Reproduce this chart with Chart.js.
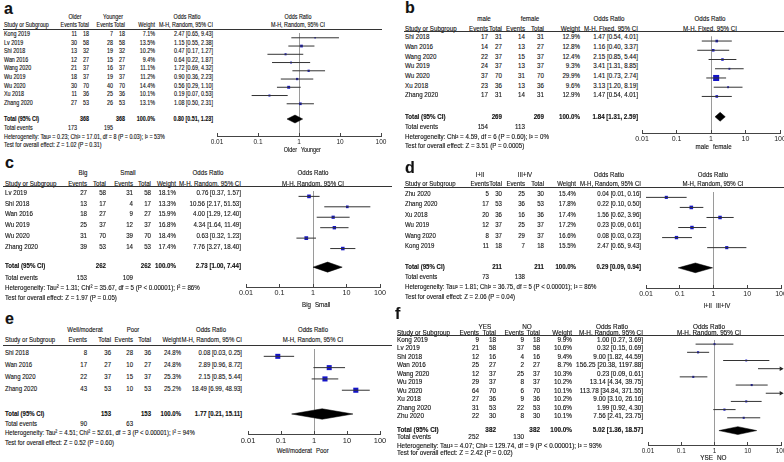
<!DOCTYPE html>
<html>
<head>
<meta charset="utf-8">
<script src="https://cdn.jsdelivr.net/npm/chart.js@4.4.1/dist/chart.umd.min.js"></script>
<style>
  body { margin: 0; width: 784px; height: 462px; position: relative; overflow: hidden; background: #fff; }
  .t { position: absolute; white-space: nowrap; line-height: 1; color: #111; -webkit-text-stroke: 0.12px #111; }
  .rule { position: absolute; height: 1px; background: #333; }
  .plot { position: absolute; }
</style>
</head>
<body>
<script>
// shared axis
const tickVals = [0.01, 0.1, 1, 10, 100];
const tickLabels = ['0.01', '0.1', '1', '10', '100'];

// a  Older vs Younger
const aStudy = ['Kong 2019', 'Lv 2019', 'Shi 2018', 'Wan 2016', 'Wang 2020', 'Wu 2019', 'Wu 2020', 'Xu 2018', 'Zhang 2020'];
const aEv1 = [11, 30, 13, 12, 21, 18, 30, 11, 27];
const aTot1 = [18, 58, 32, 27, 37, 37, 70, 36, 53];
const aEv2 = [7, 28, 19, 15, 16, 19, 40, 25, 26];
const aTot2 = [18, 58, 32, 27, 37, 37, 70, 36, 53];
const aWeight = [7.1, 13.5, 10.2, 9.4, 11.1, 11.2, 14.4, 10.1, 13.1];
const aOR = [2.47, 1.15, 0.47, 0.64, 1.72, 0.90, 0.56, 0.19, 1.08];
const aLow = [0.65, 0.55, 0.17, 0.22, 0.69, 0.36, 0.29, 0.07, 0.50];
const aHigh = [9.43, 2.38, 1.27, 1.87, 4.32, 2.23, 1.10, 0.53, 2.31];
const aTotal = [0.80, 0.51, 1.23];
const aTotN = [368, 368];
const aTotEv = [173, 195];

// b  male vs female
const bStudy = ['Shi 2018', 'Wan 2016', 'Wang 2020', 'Wu 2019', 'Wu 2020', 'Xu 2018', 'Zhang 2020'];
const bEv1 = [17, 14, 22, 24, 37, 23, 17];
const bTot1 = [31, 27, 37, 37, 70, 36, 31];
const bEv2 = [14, 13, 15, 13, 31, 13, 14];
const bTot2 = [31, 27, 37, 37, 70, 36, 31];
const bWeight = [12.9, 12.8, 12.4, 9.3, 29.9, 9.6, 12.9];
const bOR = [1.47, 1.16, 2.15, 3.41, 1.41, 3.13, 1.47];
const bLow = [0.54, 0.40, 0.85, 1.31, 0.73, 1.20, 0.54];
const bHigh = [4.01, 3.37, 5.44, 8.85, 2.74, 8.19, 4.01];
const bTotal = [1.84, 1.31, 2.59];
const bTotN = [269, 269];
const bTotEv = [154, 113];

// c  Big vs Small
const cStudy = ['Lv 2019', 'Shi 2018', 'Wan 2016', 'Wu 2019', 'Wu 2020', 'Zhang 2020'];
const cEv1 = [27, 13, 18, 25, 31, 39];
const cTot1 = [58, 17, 27, 37, 70, 53];
const cEv2 = [31, 4, 9, 12, 39, 14];
const cTot2 = [58, 17, 27, 37, 70, 53];
const cWeight = [18.1, 13.3, 15.9, 16.8, 18.4, 17.4];
const cOR = [0.76, 10.56, 4.00, 4.34, 0.63, 7.76];
const cLow = [0.37, 2.17, 1.29, 1.64, 0.32, 3.27];
const cHigh = [1.57, 51.53, 12.40, 11.49, 1.23, 18.40];
const cTotal = [2.73, 1.00, 7.44];
const cTotN = [262, 262];
const cTotEv = [153, 109];

// d  I+II vs III+IV
const dStudy = ['Zhu 2020', 'Zhang 2020', 'Xu 2018', 'Wu 2019', 'Wang 2020', 'Kong 2019'];
const dEv1 = [5, 17, 20, 12, 8, 11];
const dTot1 = [30, 53, 36, 37, 37, 18];
const dEv2 = [25, 36, 16, 25, 29, 7];
const dTot2 = [30, 53, 36, 37, 37, 18];
const dWeight = [15.4, 17.8, 17.4, 17.2, 16.6, 15.5];
const dOR = [0.04, 0.22, 1.56, 0.23, 0.08, 2.47];
const dLow = [0.01, 0.10, 0.62, 0.09, 0.03, 0.65];
const dHigh = [0.16, 0.50, 3.96, 0.61, 0.23, 9.43];
const dTotal = [0.29, 0.09, 0.94];
const dTotN = [211, 211];
const dTotEv = [73, 138];

// e  Well/moderat vs Poor
const eStudy = ['Shi 2018', 'Wan 2016', 'Wang 2020', 'Zhang 2020'];
const eEv1 = [8, 17, 22, 43];
const eTot1 = [36, 27, 37, 53];
const eEv2 = [28, 10, 15, 10];
const eTot2 = [36, 27, 37, 53];
const eWeight = [24.8, 24.8, 25.3, 25.2];
const eOR = [0.08, 2.89, 2.15, 18.49];
const eLow = [0.03, 0.96, 0.85, 6.99];
const eHigh = [0.25, 8.72, 5.44, 48.93];
const eTotal = [1.77, 0.21, 15.11];
const eTotN = [153, 153];
const eTotEv = [90, 63];

// f  YES vs NO
const fStudy = ['Kong 2019', 'Lv 2019', 'Shi 2018', 'Wan 2016', 'Wang 2020', 'Wu 2019', 'Wu 2020', 'Xu 2018', 'Zhang 2020', 'Zhu 2020'];
const fEv1 = [9, 21, 12, 25, 12, 29, 64, 27, 31, 22];
const fTot1 = [18, 58, 16, 27, 37, 37, 70, 36, 53, 30];
const fEv2 = [9, 37, 4, 2, 25, 8, 6, 9, 22, 8];
const fTot2 = [18, 58, 16, 27, 37, 37, 70, 36, 53, 30];
const fWeight = [9.9, 10.6, 9.4, 8.7, 10.3, 10.2, 10.1, 10.2, 10.6, 10.1];
const fOR = [1.00, 0.32, 9.00, 156.25, 0.23, 13.14, 113.78, 9.00, 1.99, 7.56];
const fLow = [0.27, 0.15, 1.82, 20.38, 0.09, 4.34, 34.84, 3.10, 0.92, 2.41];
const fHigh = [3.69, 0.69, 44.59, 1197.88, 0.61, 39.75, 371.55, 26.16, 4.30, 23.75];
const fTotal = [5.02, 1.36, 18.57];
const fTotN = [382, 382];
const fTotEv = [252, 130];

const FONT = '"Liberation Sans", Arial, sans-serif';
const mc = document.createElement('canvas').getContext('2d');

const panels = [
  { letter: 'a', lx: 4, ly: 9, groups: ['Older', 'Younger'], method: 'M-H, Random, 95% CI',
    study: aStudy, ev1: aEv1, tot1: aTot1, ev2: aEv2, tot2: aTot2, w: aWeight, or: aOR, lo: aLow, hi: aHigh,
    total: aTotal, totN: aTotN, totEv: aTotEv,
    het: 'Heterogeneity: Tau² = 0.23; Chi² = 17.01, df = 8 (P = 0.03); I² = 53%',
    test: 'Test for overall effect: Z = 1.02 (P = 0.31)', hetW: 161,
    fs: 6.5, cols: [4, 77.3, 89.3, 112.7, 125, 155, 213.3], h1x: [75, 113, 186.5], phx: 298,
    h1y: 17, h2y: 25.7, lineY: 29.3, lineX: [3, 382], rowY0: 34.3, dy: 8.6,
    totY: 119, evY: 128, hetY: 137, testY: 145.7, x0: 217, x1: 381, axisY: 136.7, footY: 150 },
  { letter: 'b', lx: 405, ly: 8, groups: ['male', 'female'], method: 'M-H, Fixed, 95% CI',
    study: bStudy, ev1: bEv1, tot1: bTot1, ev2: bEv2, tot2: bTot2, w: bWeight, or: bOR, lo: bLow, hi: bHigh,
    total: bTotal, totN: bTotN, totEv: bTotEv,
    het: 'Heterogeneity: Chi² = 4.59, df = 6 (P = 0.60); I² = 0%',
    test: 'Test for overall effect: Z = 3.51 (P = 0.0005)', hetW: 144,
    fs: 7, cols: [404.7, 488, 502, 524.7, 543.7, 580.3, 638], h1x: [483.7, 530.3, 608.7], phx: 710.3,
    h1y: 18.3, h2y: 28.3, lineY: 31.7, lineX: [404, 784], rowY0: 36.7, dy: 9.67,
    totY: 116, evY: 126, hetY: 136, testY: 145.7, x0: 642, x1: 780, axisY: 133, footY: 146.7 },
  { letter: 'c', lx: 5, ly: 163, groups: ['Big', 'Small'], method: 'M-H, Random, 95% CI',
    study: cStudy, ev1: cEv1, tot1: cTot1, ev2: cEv2, tot2: cTot2, w: cWeight, or: cOR, lo: cLow, hi: cHigh,
    total: cTotal, totN: cTotN, totEv: cTotEv,
    het: 'Heterogeneity: Tau² = 1.31; Chi² = 35.67, df = 5 (P < 0.00001); I² = 86%',
    test: 'Test for overall effect: Z = 1.97 (P = 0.05)', hetW: 195,
    fs: 7.2, cols: [5, 87.3, 106, 133.3, 150.7, 176, 240.7], h1x: [83.3, 128.3, 208.3], phx: 313,
    h1y: 172.7, h2y: 183.3, lineY: 186.7, lineX: [3, 392], rowY0: 192.3, dy: 10.87,
    totY: 266, evY: 277.3, hetY: 287.3, testY: 297.7, x0: 245.7, x1: 380, axisY: 286.7, footY: 304.3 },
  { letter: 'd', lx: 405, ly: 168, groups: ['I+II', 'III+IV'], method: 'M-H, Random, 95% CI',
    study: dStudy, ev1: dEv1, tot1: dTot1, ev2: dEv2, tot2: dTot2, w: dWeight, or: dOR, lo: dLow, hi: dHigh,
    total: dTotal, totN: dTotN, totEv: dTotEv,
    het: 'Heterogeneity: Tau² = 1.81; Chi² = 36.75, df = 5 (P < 0.00001); I² = 86%',
    test: 'Test for overall effect: Z = 2.06 (P = 0.04)', hetW: 191.7,
    fs: 7, cols: [405.3, 488.7, 502, 525.3, 543.7, 576.3, 641.3], h1x: [480.3, 525.3, 608.7], phx: 713,
    h1y: 174, h2y: 183.3, lineY: 187.7, lineX: [404, 784], rowY0: 193.3, dy: 10.47,
    totY: 266.7, evY: 276.7, hetY: 286.7, testY: 296.7, x0: 646, x1: 781, axisY: 287.7, footY: 305 },
  { letter: 'e', lx: 5, ly: 319, groups: ['Well/moderat', 'Poor'], method: 'M-H, Random, 95% CI',
    study: eStudy, ev1: eEv1, tot1: eTot1, ev2: eEv2, tot2: eTot2, w: eWeight, or: eOR, lo: eLow, hi: eHigh,
    total: eTotal, totN: eTotN, totEv: eTotEv,
    het: 'Heterogeneity: Tau² = 4.51; Chi² = 52.61, df = 3 (P < 0.00001); I² = 94%',
    test: 'Test for overall effect: Z = 0.52 (P = 0.60)', hetW: 190,
    fs: 7.5, cols: [5, 87.3, 110.7, 133.3, 150.7, 180.7, 242.3], h1x: [85, 133.3, 210.7], phx: 313,
    h1y: 330, h2y: 340, lineY: 345, lineX: [3, 392], rowY0: 352.7, dy: 11.87,
    totY: 413.3, evY: 423.3, hetY: 432.7, testY: 442.3, x0: 248, x1: 380, axisY: 434.3, footY: 450.7 },
  { letter: 'f', lx: 395, ly: 314, groups: ['YES', 'NO'], footer: ['YSE', 'NO'], method: 'M-H, Random, 95% CI',
    study: fStudy, ev1: fEv1, tot1: fTot1, ev2: fEv2, tot2: fTot2, w: fWeight, or: fOR, lo: fLow, hi: fHigh,
    total: fTotal, totN: fTotN, totEv: fTotEv,
    het: 'Heterogeneity: Tau² = 4.07; Chi² = 129.74, df = 9 (P < 0.00001); I² = 93%',
    test: 'Test for overall effect: Z = 2.42 (P = 0.02)', hetW: 205,
    fs: 6.4, cols: [397, 479.3, 496, 523.7, 540.3, 572, 642.7], h1x: [485.3, 527, 612], phx: 709,
    h1y: 326.7, h2y: 333.3, lineY: 335.7, lineX: [397, 784], rowY0: 340, dy: 8.52,
    totY: 430, evY: 437.3, hetY: 446, testY: 453.3, x0: 648, x1: 781, axisY: 445, footY: 458.3 }
];

function put(txt, x, y, align, size, k, bold) {
  let d = document.createElement('div');
  d.className = 't';
  d.textContent = txt;
  d.style.fontFamily = FONT;
  d.style.fontSize = size + 'px';
  d.style.left = x + 'px';
  d.style.top = (y - size * 0.5) + 'px';
  if (bold) d.style.fontWeight = 'bold';
  let f = align === 'right' ? 1 : align === 'center' ? 0.5 : 0;
  d.style.transformOrigin = (f * 100) + '% 50%';
  d.style.transform = 'translateX(' + (-f * 100) + '%) scaleX(' + k + ')';
  document.body.appendChild(d);
}

function fmtOR(v) {
  return v[0].toFixed(2) + ' [' + v[1].toFixed(2) + ', ' + v[2].toFixed(2) + ']';
}

function drawTable(p) {
  let c = p.cols, fs = p.fs;
  // squeeze factor so the heterogeneity line has the reference width
  mc.font = fs + 'px ' + FONT;
  let k = p.hetW / mc.measureText(p.het).width;
  p.k = k;
  let t = (txt, x, y, al, b) => put(txt, x, y, al, fs, k, b);

  put(p.letter, p.lx, p.ly, 'left', 16, 1, true);

  t(p.groups[0], p.h1x[0], p.h1y, 'center');
  t(p.groups[1], p.h1x[1], p.h1y, 'center');
  t('Odds Ratio', p.h1x[2], p.h1y, 'center');
  t('Odds Ratio', p.phx, p.h1y, 'center');

  t('Study or Subgroup', c[0], p.h2y, 'left');
  t('Events', c[1], p.h2y, 'right');
  t('Total', c[2], p.h2y, 'right');
  t('Events', c[3], p.h2y, 'right');
  t('Total', c[4], p.h2y, 'right');
  t('Weight', c[5], p.h2y, 'right');
  t(p.method, c[6], p.h2y, 'right');
  t(p.method, p.phx, p.h2y, 'center');

  let r = document.createElement('div');
  r.className = 'rule';
  r.style.left = p.lineX[0] + 'px';
  r.style.width = (p.lineX[1] - p.lineX[0]) + 'px';
  r.style.top = Math.round(p.lineY - 0.5) + 'px';
  document.body.appendChild(r);

  p.study.forEach((s, i) => {
    let y = p.rowY0 + i * p.dy;
    t(s, c[0], y, 'left');
    t(String(p.ev1[i]), c[1], y, 'right');
    t(String(p.tot1[i]), c[2], y, 'right');
    t(String(p.ev2[i]), c[3], y, 'right');
    t(String(p.tot2[i]), c[4], y, 'right');
    t(p.w[i].toFixed(1) + '%', c[5], y, 'right');
    t(fmtOR([p.or[i], p.lo[i], p.hi[i]]), c[6], y, 'right');
  });

  t('Total (95% CI)', c[0], p.totY, 'left', true);
  t(String(p.totN[0]), c[2], p.totY, 'right', true);
  t(String(p.totN[1]), c[4], p.totY, 'right', true);
  t('100.0%', c[5], p.totY, 'right', true);
  t(fmtOR(p.total), c[6], p.totY, 'right', true);

  t('Total events', c[0], p.evY, 'left');
  t(String(p.totEv[0]), c[1], p.evY, 'right');
  t(String(p.totEv[1]), c[3], p.evY, 'right');
  t(p.het, c[0], p.hetY, 'left');
  t(p.test, c[0], p.testY, 'left');
}

function drawPlot(p) {
  const padX = 14, axisH = 12;
  const w = Math.round(p.x1 - p.x0 + 2 * padX);
  const h = Math.round(p.axisY - p.lineY + axisH);
  const xMin = tickVals[0], xMax = tickVals[tickVals.length - 1];
  const rowOf = y => (y - p.rowY0) / p.dy;

  let wrap = document.createElement('div');
  wrap.className = 'plot';
  wrap.style.left = (p.x0 - padX) + 'px';
  wrap.style.top = p.lineY + 'px';
  wrap.style.width = w + 'px';
  wrap.style.height = h + 'px';
  let cv = document.createElement('canvas');
  cv.width = w; cv.height = h;
  cv.style.width = w + 'px'; cv.style.height = h + 'px';
  wrap.appendChild(cv);
  document.body.appendChild(wrap);

  let datasets = [];
  // confidence intervals
  p.lo.forEach((lo, i) => {
    datasets.push({
      type: 'line',
      data: [{ x: Math.max(lo, xMin), y: i }, { x: Math.min(p.hi[i], xMax), y: i }],
      borderColor: '#333', borderWidth: 1, pointRadius: 0, fill: false, clip: false
    });
  });
  // study squares, sized by weight
  let sq = [];
  p.or.forEach((v, i) => { if (v >= xMin && v <= xMax) sq.push({ x: v, y: i, r: p.w[i] / 7 }); });
  datasets.push({
    type: 'scatter', data: sq, pointStyle: 'rect',
    pointRadius: ctx => ctx.raw ? ctx.raw.r : 2,
    backgroundColor: '#1414c8', borderWidth: 0, clip: false
  });
  // arrows for intervals running off the scale
  let arr = [];
  p.hi.forEach((v, i) => { if (v > xMax) arr.push({ x: xMax, y: i }); });
  if (arr.length) {
    datasets.push({
      type: 'scatter', data: arr, pointStyle: 'triangle', rotation: 90,
      pointRadius: 2.6, backgroundColor: '#222', borderWidth: 0, clip: false
    });
  }
  // pooled diamond
  let ty = rowOf(p.totY), dh = 0.5 * p.dy > 5.5 ? 5.5 / p.dy : 0.48;
  datasets.push({
    type: 'line',
    data: [{ x: p.total[1], y: ty }, { x: p.total[0], y: ty - dh }, { x: p.total[2], y: ty },
           { x: p.total[0], y: ty + dh }, { x: p.total[1], y: ty }],
    borderColor: '#000', borderWidth: 0.5, backgroundColor: '#000', pointRadius: 0,
    fill: 'shape', tension: 0, clip: false
  });

  let chart = new Chart(cv, {
    type: 'scatter',
    data: { datasets: datasets },
    options: {
      responsive: false,
      animation: false,
      events: [],
      layout: { padding: { left: padX, right: padX, top: 0, bottom: 0 } },
      plugins: { legend: { display: false }, tooltip: { enabled: false } },
      scales: {
        x: {
          type: 'logarithmic', min: xMin, max: xMax, position: 'bottom',
          afterBuildTicks: s => { s.ticks = tickVals.map(v => ({ value: v })); },
          afterFit: s => { s.height = axisH; s.paddingLeft = 0; s.paddingRight = 0; },
          ticks: {
            autoSkip: false, maxRotation: 0, padding: 5, color: '#222',
            font: { family: FONT, size: p.fs },
            callback: v => tickLabels[tickVals.indexOf(v)]
          },
          grid: {
            drawOnChartArea: true, tickLength: -3, lineWidth: 1,
            color: c => (c.tick && c.tick.value === 1) ? '#9a9a9a' : 'rgba(0,0,0,0)',
            tickColor: '#444'
          },
          border: { display: true, color: '#444', width: 1 }
        },
        y: {
          type: 'linear', display: false, reverse: true,
          min: rowOf(p.lineY), max: rowOf(p.axisY)
        }
      }
    }
  });

  // labels either side of the null line
  let xOne = p.x0 - padX + chart.scales.x.getPixelForValue(1);
  let foot = p.footer || p.groups;
  put(foot[0], xOne - 2, p.footY, 'right', p.fs, p.k);
  put(foot[1], xOne + 2, p.footY, 'left', p.fs, p.k);
}

panels.forEach(p => { drawTable(p); drawPlot(p); });
</script>
</body>
</html>
